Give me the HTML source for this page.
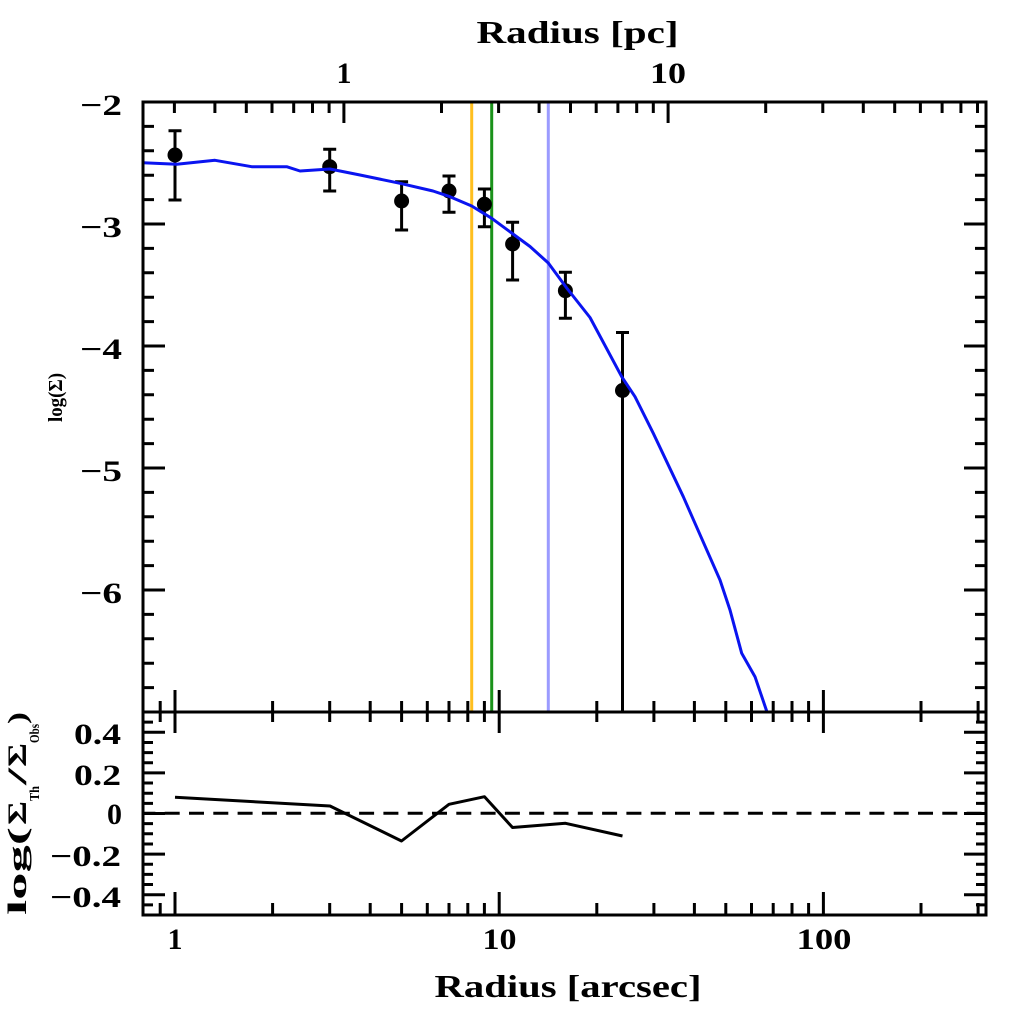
<!DOCTYPE html>
<html>
<head>
<meta charset="utf-8">
<style>
  html,body{margin:0;padding:0;background:#fff;}
  svg{display:block;}
  text{font-family:"Liberation Serif",serif;font-weight:bold;fill:#000;}
</style>
</head>
<body>
<svg width="1024" height="1024" viewBox="0 0 1024 1024" xmlns="http://www.w3.org/2000/svg">
  <rect x="0" y="0" width="1024" height="1024" fill="#fff"/>

  <!-- vertical reference lines -->
  <line x1="471.7" y1="102" x2="471.7" y2="712" stroke="#ffbf1f" stroke-width="3"/>
  <line x1="491.7" y1="102" x2="491.7" y2="712" stroke="#1a921a" stroke-width="3"/>
  <line x1="548.3" y1="102" x2="548.3" y2="712" stroke="#9b9bff" stroke-width="3"/>

  <!-- error bars -->
  <g stroke="#000" stroke-width="3" fill="none">
    <path d="M175 130.7V200M168.5 130.7h13M168.5 200h13"/>
    <path d="M329.7 149.3V191M323.2 149.3h13M323.2 191h13"/>
    <path d="M401.6 181.7V230M395.1 181.7h13M395.1 230h13"/>
    <path d="M449 176V212.3M442.5 176h13M442.5 212.3h13"/>
    <path d="M484.4 189V226.7M477.9 189h13M477.9 226.7h13"/>
    <path d="M512.6 222.3V280M506.1 222.3h13M506.1 280h13"/>
    <path d="M565.4 272.3V318.3M558.9 272.3h13M558.9 318.3h13"/>
    <path d="M622.5 332.5V712M616 332.5h13"/>
  </g>
  <!-- markers -->
  <g fill="#000">
    <circle cx="175" cy="155" r="7.5"/>
    <circle cx="329.7" cy="166.7" r="7.5"/>
    <circle cx="401.6" cy="201" r="7.5"/>
    <circle cx="449" cy="191" r="7.5"/>
    <circle cx="484.4" cy="204.3" r="7.5"/>
    <circle cx="512.6" cy="244" r="7.5"/>
    <circle cx="565.4" cy="290.7" r="7.5"/>
    <circle cx="622.5" cy="390.5" r="7.5"/>
  </g>

  <!-- model curve -->
  <polyline fill="none" stroke="#0a14f0" stroke-width="3" stroke-linejoin="round"
    points="143,162.7 176.7,164.3 215,160.3 251.7,166.7 286.7,166.7 300,171 330,169 360,175 400,183.3 433,191 450,196.7 471.7,206 491.7,218.3 513,234 530,246.5 548.3,263 566.7,288 590,317.5 621.7,376.7 635,396.7 653.3,433.3 683.3,496.7 695,523.3 720,580 730,610 741.7,653.3 755,676.7 767,712"/>

  <!-- residuals -->
  <line x1="143" y1="813.3" x2="986" y2="813.3" stroke="#000" stroke-width="3" stroke-dasharray="15 9.3" stroke-dashoffset="2.6"/>
  <polyline fill="none" stroke="#000" stroke-width="3" stroke-linejoin="round"
    points="175,797.3 330,806 401.5,841 449,804.3 484.5,796.7 512.5,827.5 565.5,823.3 622.5,836"/>

  <!-- frame -->
  <g stroke="#000" stroke-width="3" fill="none" stroke-linecap="square">
    <rect x="143" y="102" width="843" height="813"/>
    <line x1="143" y1="712" x2="986" y2="712"/>
  </g>

  <!-- ticks -->
  <g stroke="#000" stroke-width="3" fill="none">
    <path d="M143 126.4h11M143 150.8h11M143 175.2h11M143 199.6h11M143 248.4h11M143 272.8h11M143 297.2h11M143 321.6h11M143 370.4h11M143 394.8h11M143 419.2h11M143 443.6h11M143 492.4h11M143 516.8h11M143 541.2h11M143 565.6h11M143 614.4h11M143 638.8h11M143 663.2h11M143 687.6h11"/>
    <path d="M143 224h22M143 346h22M143 468h22M143 590h22"/>
    <path d="M986 126.4h-11M986 150.8h-11M986 175.2h-11M986 199.6h-11M986 248.4h-11M986 272.8h-11M986 297.2h-11M986 321.6h-11M986 370.4h-11M986 394.8h-11M986 419.2h-11M986 443.6h-11M986 492.4h-11M986 516.8h-11M986 541.2h-11M986 565.6h-11M986 614.4h-11M986 638.8h-11M986 663.2h-11M986 687.6h-11"/>
    <path d="M986 224h-22M986 346h-22M986 468h-22M986 590h-22"/>
    <path d="M174.4 102v11M214.9 102v11M246.3 102v11M272 102v11M293.7 102v11M312.5 102v11M329.1 102v11M441.5 102v11M498.6 102v11M539.1 102v11M570.5 102v11M596.2 102v11M617.9 102v11M636.7 102v11M653.3 102v11M765.7 102v11M822.8 102v11M863.3 102v11M894.7 102v11M920.4 102v11M942.1 102v11M960.9 102v11M977.5 102v11"/>
    <path d="M343.9 102v21M668.1 102v21"/>
    <path d="M160.2 712v-11M272.6 712v-11M329.7 712v-11M370.2 712v-11M401.6 712v-11M427.3 712v-11M449 712v-11M467.8 712v-11M484.4 712v-11M596.8 712v-11M653.9 712v-11M694.4 712v-11M725.8 712v-11M751.5 712v-11M773.2 712v-11M792 712v-11M808.6 712v-11M921 712v-11M978.1 712v-11"/>
    <path d="M175 712v-22M499.2 712v-22M823.4 712v-22"/>
    <path d="M160.2 712v10M272.6 712v10M329.7 712v10M370.2 712v10M401.6 712v10M427.3 712v10M449 712v10M467.8 712v10M484.4 712v10M596.8 712v10M653.9 712v10M694.4 712v10M725.8 712v10M751.5 712v10M773.2 712v10M792 712v10M808.6 712v10M921 712v10M978.1 712v10"/>
    <path d="M175 712v21M499.2 712v21M823.4 712v21"/>
    <path d="M160.2 915v-12M272.6 915v-12M329.7 915v-12M370.2 915v-12M401.6 915v-12M427.3 915v-12M449 915v-12M467.8 915v-12M484.4 915v-12M596.8 915v-12M653.9 915v-12M694.4 915v-12M725.8 915v-12M751.5 915v-12M773.2 915v-12M792 915v-12M808.6 915v-12M921 915v-12M978.1 915v-12"/>
    <path d="M175 915v-23M499.2 915v-23M823.4 915v-23"/>
    <path d="M143 722.15h10M143 742.45h10M143 752.6h10M143 762.75h10M143 783.05h10M143 793.2h10M143 803.35h10M143 823.65h10M143 833.8h10M143 843.95h10M143 864.25h10M143 874.4h10M143 884.55h10M143 904.85h10"/>
    <path d="M143 732.3h22M143 772.9h22M143 813.5h22M143 854.1h22M143 894.7h22"/>
    <path d="M986 722.15h-10M986 742.45h-10M986 752.6h-10M986 762.75h-10M986 783.05h-10M986 793.2h-10M986 803.35h-10M986 823.65h-10M986 833.8h-10M986 843.95h-10M986 864.25h-10M986 874.4h-10M986 884.55h-10M986 904.85h-10"/>
    <path d="M986 732.3h-22M986 772.9h-22M986 813.5h-22M986 854.1h-22M986 894.7h-22"/>
  </g>

  <!-- top axis labels -->
  <text x="577.5" y="43" font-size="32" text-anchor="middle" textLength="202" lengthAdjust="spacingAndGlyphs">Radius [pc]</text>
  <text x="344" y="83" font-size="30" text-anchor="middle">1</text>
  <text x="668" y="83" font-size="30" text-anchor="middle" textLength="36" lengthAdjust="spacingAndGlyphs">10</text>

  <!-- main left labels -->
  <g font-size="30" text-anchor="end">
    <text x="122" y="115" textLength="42" lengthAdjust="spacingAndGlyphs">−2</text>
    <text x="122" y="237" textLength="42" lengthAdjust="spacingAndGlyphs">−3</text>
    <text x="122" y="359" textLength="42" lengthAdjust="spacingAndGlyphs">−4</text>
    <text x="122" y="481" textLength="42" lengthAdjust="spacingAndGlyphs">−5</text>
    <text x="122" y="603" textLength="42" lengthAdjust="spacingAndGlyphs">−6</text>
  </g>
  <g transform="translate(62,422) rotate(-90)">
    <text x="0" y="0" font-size="20" textLength="49" lengthAdjust="spacingAndGlyphs">log(Σ)</text>
  </g>

  <!-- residual left labels -->
  <g font-size="30" text-anchor="end">
    <text x="121" y="744" textLength="47" lengthAdjust="spacingAndGlyphs">0.4</text>
    <text x="121" y="785" textLength="47" lengthAdjust="spacingAndGlyphs">0.2</text>
    <text x="122" y="824">0</text>
    <text x="121" y="866" textLength="71" lengthAdjust="spacingAndGlyphs">−0.2</text>
    <text x="121" y="907" textLength="71" lengthAdjust="spacingAndGlyphs">−0.4</text>
  </g>
  <g transform="translate(26,915) rotate(-90)" font-size="26">
    <text x="0" y="0" textLength="88" lengthAdjust="spacingAndGlyphs">log(</text>
    <text x="90" y="0" textLength="24" lengthAdjust="spacingAndGlyphs">Σ</text>
    <text x="114" y="13" font-size="14" textLength="15" lengthAdjust="spacingAndGlyphs">Th</text>
    <text x="130" y="0" textLength="17" lengthAdjust="spacingAndGlyphs">/</text>
    <text x="148" y="0" textLength="24" lengthAdjust="spacingAndGlyphs">Σ</text>
    <text x="172" y="13" font-size="14" textLength="19" lengthAdjust="spacingAndGlyphs">Obs</text>
    <text x="191" y="0" textLength="12" lengthAdjust="spacingAndGlyphs">)</text>
  </g>

  <!-- bottom axis labels -->
  <g font-size="30" text-anchor="middle">
    <text x="175" y="949">1</text>
    <text x="499.5" y="949" textLength="34" lengthAdjust="spacingAndGlyphs">10</text>
    <text x="824" y="949" textLength="55" lengthAdjust="spacingAndGlyphs">100</text>
  </g>
  <text x="568" y="997" font-size="32" text-anchor="middle" textLength="267" lengthAdjust="spacingAndGlyphs">Radius [arcsec]</text>
</svg>
</body>
</html>
